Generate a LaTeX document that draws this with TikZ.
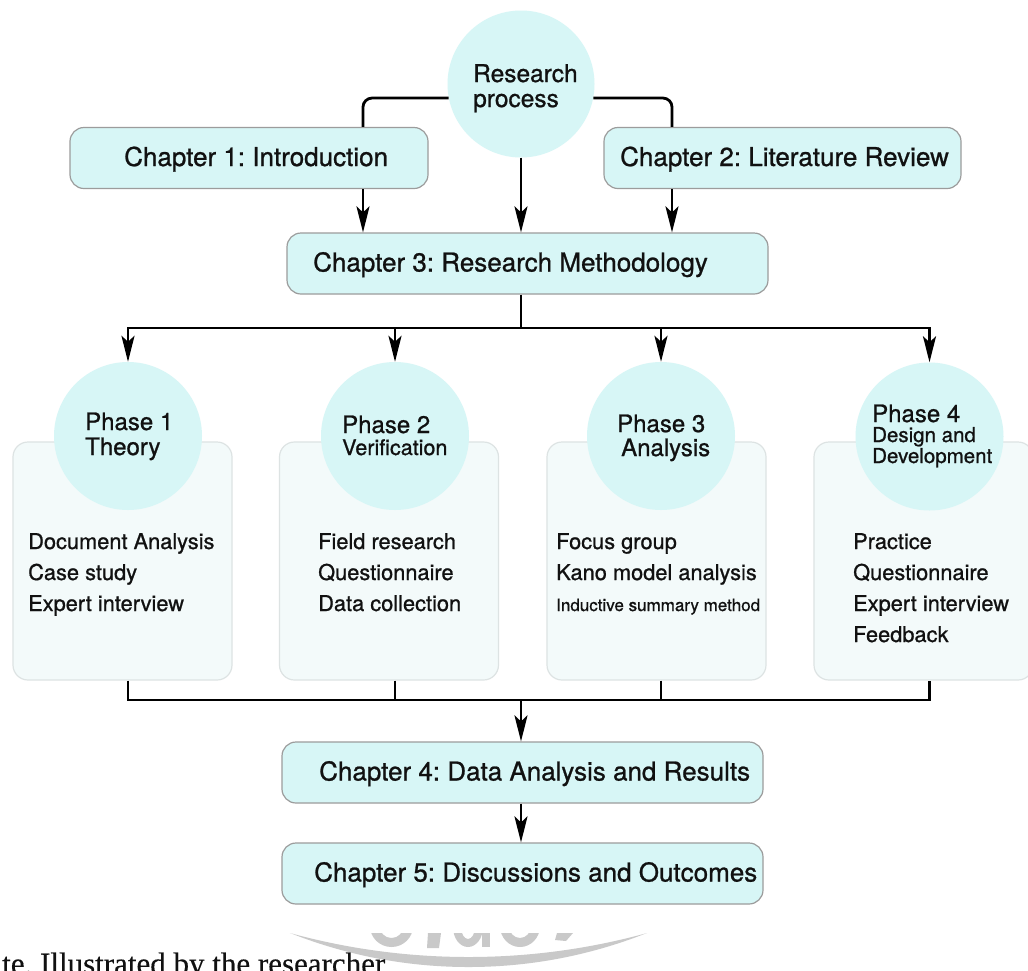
\documentclass[tikz,border=0pt]{standalone}
\usepackage{fontspec}
\setmainfont{TeX Gyre Heros}[FakeBold=0.9]
\newfontfamily\captionfont{Liberation Serif}[FakeBold=0.3]
\usetikzlibrary{arrows.meta}
\frenchspacing

\definecolor{cyanfill}{HTML}{D7F6F6}
\definecolor{panelfill}{HTML}{F3FAFA}
\definecolor{panelline}{HTML}{DDE3E3}
\definecolor{boxline}{HTML}{9C9C9C}
\definecolor{ink}{HTML}{111111}
\definecolor{wmark}{HTML}{C9C9C9}

\newcommand{\fsz}[1]{\fontsize{#1}{#1}\selectfont}

\begin{document}
\begin{tikzpicture}[x=1pt,y=-1pt,
  chapbox/.style={draw=boxline, line width=1.2pt, fill=cyanfill,
    rounded corners=14pt, inner sep=0pt, minimum width=#1, minimum height=61pt},
  panel/.style={draw=panelline, line width=1.2pt, fill=panelfill,
    rounded corners=15pt, inner sep=0pt, minimum width=219pt, minimum height=238pt},
  bubble/.style={circle, fill=cyanfill, inner sep=0pt, minimum size=148pt},
  txt/.style={anchor=base west, inner sep=0pt, text=ink},
  chaptxt/.style={txt, font=\fsz{26}},
  headtxt/.style={txt, font=\fsz{24}},
  subtxt/.style={txt, font=\fsz{20.5}},
  itemtxt/.style={txt, font=\fsz{21.8}},
  conn/.style={draw=black, line width=2.8pt},
  arr/.style={conn, -{Stealth[length=26pt,width=13pt,inset=6pt]}},
]
\useasboundingbox[fill=white] (0,0) rectangle (1028,970);

% faint seal printed under the figure
\begin{scope}
  \clip (0,933) rectangle (1028,975);
  \fill[wmark, even odd rule] (468.5,484) circle[radius=483] (468.5,285) circle[radius=672];
  \fill[wmark, even odd rule] (391.5,926) ellipse[x radius=21.5, y radius=21]
                              (391.5,926) ellipse[x radius=12, y radius=12];
  \fill[wmark] (428,933) -- (441,933) -- (439,948) -- (427,948) -- cycle;
  \fill[wmark, even odd rule] (468,927) ellipse[x radius=15, y radius=20]
                              (468,927) ellipse[x radius=7, y radius=12];
  \fill[wmark] (482,933) rectangle (490,947);
  \fill[wmark, even odd rule] (520,926) ellipse[x radius=20, y radius=21]
                              (520,926) ellipse[x radius=11, y radius=12];
  \fill[wmark] (557,933) -- (573,933) -- (566,941) -- (555,940) -- cycle;
\end{scope}

% chapter boxes
\node[chapbox=358pt] (ch1) at (249,158) {};
\node[chapbox=357pt] (ch2) at (782.5,158) {};
\node[chapbox=481pt] (ch3) at (527.5,263.5) {};
\node[chapbox=481pt] (ch4) at (522.5,772.5) {};
\node[chapbox=481pt] (ch5) at (522.5,873.5) {};

\node[chaptxt] (ch1t) at (124,166) {Chapter 1: Introduction};
\node[chaptxt] (ch2t) at (620,166) {Chapter 2: Literature Review};
\node[chaptxt] (ch3t) at (313,271.5) {Chapter 3: Research Methodology};
\node[chaptxt] (ch4t) at (319,780.5) {Chapter 4: Data Analysis and Results};
\node[chaptxt] (ch5t) at (314,881.5) {Chapter 5: Discussions and Outcomes};

% top circle
\node[bubble, minimum size=147pt] (rp) at (521,84) {};
\node[txt, font=\fsz{24.5}] (rpt1) at (473,82) {Research};
\node[txt, font=\fsz{24.5}] (rpt2) at (473,107) {process};

% phase panels
\node[panel] (p1box) at (122.5,561) {};
\node[panel] (p2box) at (389,561) {};
\node[panel] (p3box) at (656.5,561) {};
\node[panel] (p4box) at (923.5,561) {};

% phase circles
\node[bubble] (ph1) at (128,436) {};
\node[bubble] (ph2) at (395,436) {};
\node[bubble] (ph3) at (661,436) {};
\node[bubble] (ph4) at (929.5,436.5) {};

\node[headtxt] (ph1a) at (85,430) {Phase 1};
\node[headtxt] (ph1b) at (85,455) {Theory};
\node[headtxt] (ph2a) at (342,433) {Phase 2};
\node[txt, font=\fsz{21.5}] (ph2b) at (342,455) {Verification};
\node[headtxt] (ph3a) at (617,432) {Phase 3};
\node[headtxt] (ph3b) at (621,456) {Analysis};
\node[headtxt] (ph4a) at (872,422) {Phase 4};
\node[subtxt] (ph4b) at (872,442) {Design and};
\node[subtxt] (ph4c) at (872,463) {Development};

% phase contents
\node[itemtxt] (i11) at (28,549) {Document Analysis};
\node[itemtxt] (i12) at (28,580) {Case study};
\node[itemtxt] (i13) at (28,611) {Expert interview};

\node[itemtxt] (i21) at (318,549) {Field research};
\node[itemtxt] (i22) at (318,580) {Questionnaire};
\node[itemtxt] (i23) at (318,611) {Data collection};

\node[itemtxt] (i31) at (556,549) {Focus group};
\node[itemtxt] (i32) at (556,580) {Kano model analysis};
\node[txt, font=\fsz{17}] (i33) at (556,611) {Inductive summary method};

\node[itemtxt] (i41) at (853,549) {Practice};
\node[itemtxt] (i42) at (853,580) {Questionnaire};
\node[itemtxt] (i43) at (853,611) {Expert interview};
\node[itemtxt] (i44) at (853,642) {Feedback};

% connectors: research process to chapters 1-3
\coordinate (lcol) at (363,0);
\coordinate (rcol) at (672,0);
\coordinate (mcol) at (521,0);
\draw[conn, rounded corners=9pt] (rp.191) -| (lcol |- ch1.north);
\draw[conn, rounded corners=9pt] (rp.349) -| (rcol |- ch2.north);
\draw[arr] (lcol |- ch1.south) -- (lcol |- ch3.north);
\draw[arr] (rcol |- ch2.south) -- (rcol |- ch3.north);
\draw[arr] (mcol |- rp.south) -- (mcol |- ch3.north);

% chapter 3 fans out to the four phases
\coordinate (split) at (521,328);
\draw[conn] (split |- ch3.south) -- (split);
\draw[arr] (split) -| (ph1.north);
\draw[arr] (split) -| (ph2.north);
\draw[arr] (split) -| (ph3.north);
\draw[arr] (split) -| (ph4.north);

% phases gather into chapter 4
\coordinate (merge) at (521,700);
\draw[conn] (ph1 |- p1box.south) |- (merge) -| (ph4 |- p4box.south);
\draw[conn] (ph2 |- p2box.south) -- (ph2 |- merge);
\draw[conn] (ph3 |- p3box.south) -- (ph3 |- merge);
\draw[arr] (merge) -- (merge |- ch4.north);
\draw[arr] (merge |- ch4.south) -- (merge |- ch5.north);

% source note
\node[txt, font=\captionfont\fsz{31}] (note) at (2,974) {te. Illustrated by the researcher};
\end{tikzpicture}
\end{document}
